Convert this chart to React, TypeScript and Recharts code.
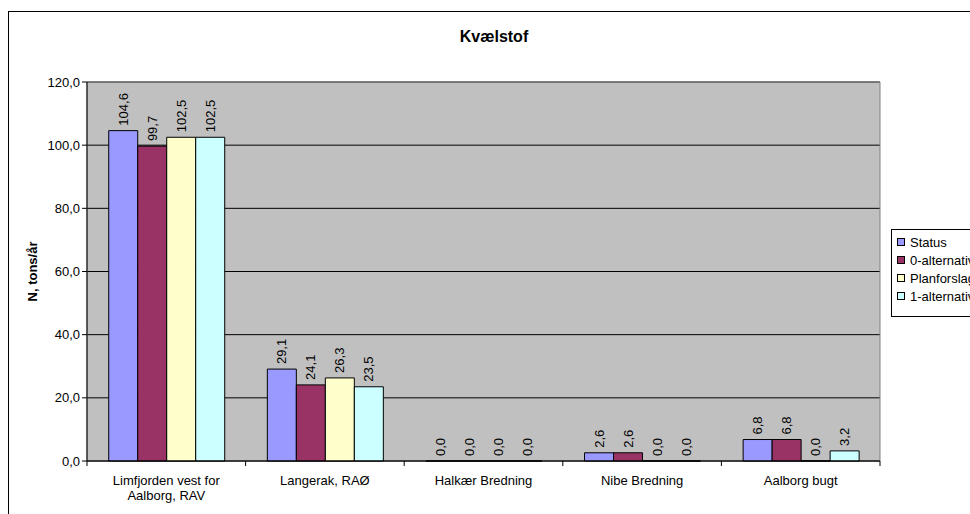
import React from 'react';
import { BarChart, Bar, XAxis, YAxis, CartesianGrid, Legend, LabelList, ReferenceArea } from 'recharts';

const categories = ['Limfjorden vest for\nAalborg, RAV', 'Langerak, RAØ', 'Halkær Bredning', 'Nibe Bredning', 'Aalborg bugt'];
const status = [104.6, 29.1, 0, 2.6, 6.8];
const alt0 = [99.7, 24.1, 0, 2.6, 6.8];
const planforslag = [102.5, 26.3, 0, 0, 0];
const alt1 = [102.5, 23.5, 0, 0, 3.2];
const yTicks = [0, 20, 40, 60, 80, 100, 120];

const series = [
  { key: 'status', name: 'Status', color: '#9999FF' },
  { key: 'alt0', name: '0-alternativ', color: '#993366' },
  { key: 'plan', name: 'Planforslag', color: '#FFFFCC' },
  { key: 'alt1', name: '1-alternativ', color: '#CCFFFF' },
];

const data = categories.map((name, i) => ({
  name,
  status: status[i],
  alt0: alt0[i],
  plan: planforslag[i],
  alt1: alt1[i],
}));

const FONT = '"Liberation Sans", Arial, sans-serif';
const W = 970;
const H = 514;
const M = { top: 82, right: 90, bottom: 0, left: 0 };
const Y_W = 87;
const X_H = 53;
const BAND = (W - M.left - M.right - Y_W) / categories.length;

const fmt = (v: number) => v.toFixed(1).replace('.', ',');

function CategoryTick(props: any) {
  const { x, y, payload, index } = props;
  const lines = String(payload.value).split('\n');
  return (
    <g>
      <line x1={x - BAND / 2} x2={x - BAND / 2} y1={y} y2={y + 5} stroke="#000" />
      {index === categories.length - 1 && (
        <line x1={x + BAND / 2} x2={x + BAND / 2} y1={y} y2={y + 5} stroke="#000" />
      )}
      <text x={x} y={y + 19} textAnchor="middle" fontSize={13} fontFamily={FONT} fill="#000">
        {lines.map((l, i) => (
          <tspan key={i} x={x} dy={i === 0 ? 4.5 : 15}>{l}</tspan>
        ))}
      </text>
    </g>
  );
}

function BarValue(props: any) {
  const vb = props.viewBox || {};
  const x = props.x ?? vb.x;
  const y = props.y ?? vb.y;
  const width = props.width ?? vb.width;
  const height = props.height ?? vb.height ?? 0;
  const cx = x + width / 2;
  // top of the bar (height may be tiny for zero values)
  const top = Math.min(y, y + height);
  const ty = top - 5;
  return (
    <text
      x={cx}
      y={ty}
      transform={`rotate(-90 ${cx} ${ty})`}
      textAnchor="start"
      dominantBaseline="central"
      fontSize={13}
      fontFamily={FONT}
      fill="#000"
    >
      {fmt(Number(props.value))}
    </text>
  );
}

function LegendBox() {
  return (
    <div style={{ border: '1px solid #000', background: '#fff', padding: '3px 0 11px 0', width: 200, fontFamily: FONT, fontSize: 13 }}>
      {series.map(s => (
        <div key={s.key} style={{ height: 18, display: 'flex', alignItems: 'center' }}>
          <span style={{ display: 'inline-block', width: 6, height: 6, border: '1px solid #000', background: s.color, marginLeft: 5, marginRight: 5 }} />
          <span>{s.name}</span>
        </div>
      ))}
    </div>
  );
}

export default function App() {
  return (
    <div style={{ position: 'fixed', left: 0, top: 0, width: W, height: H, overflow: 'hidden', background: '#fff' }}>
      <div style={{ position: 'absolute', left: 8, top: 11, width: 2000, height: 2000, border: '1px solid #000' }} />
      <div style={{ position: 'absolute', left: 0, width: 988, top: 28, textAlign: 'center', fontFamily: FONT, fontSize: 16, fontWeight: 'bold', lineHeight: '18px' }}>
        Kvælstof
      </div>
      <div style={{ position: 'absolute', left: 0, top: 0 }}>
        <BarChart width={W} height={H} data={data} margin={M} barCategoryGap="13.7%" barGap={0}>
          <CartesianGrid vertical={false} stroke="#000" fill="#C0C0C0" fillOpacity={1} />
          <ReferenceArea y1={0} y2={120} fill="none" stroke="#808080" strokeWidth={1} ifOverflow="visible" />
          <XAxis
            dataKey="name"
            height={X_H}
            interval={0}
            tickSize={0}
            tickMargin={0}
            tickLine={false}
            axisLine={{ stroke: '#000' }}
            tick={<CategoryTick />}
          />
          <YAxis
            width={Y_W}
            domain={[0, 120]}
            ticks={yTicks}
            interval={0}
            tickFormatter={fmt}
            tickSize={5}
            axisLine={{ stroke: '#000' }}
            tickLine={{ stroke: '#000' }}
            tick={{ fontSize: 13, fontFamily: FONT, fill: '#000' }}
            label={{ value: 'N, tons/år', angle: -90, position: 'center', dx: -11.5, style: { fontSize: 13, fontWeight: 'bold', fontFamily: FONT, fill: '#000' } }}
          />
          <Legend
            layout="vertical"
            align="center"
            verticalAlign="middle"
            content={<LegendBox />}
            wrapperStyle={{ left: 891, top: 229, width: 200 }}
          />
          {series.map(s => (
            <Bar
              key={s.key}
              dataKey={s.key}
              name={s.name}
              fill={s.color}
              stroke="#000"
              strokeWidth={1}
              minPointSize={0.01}
              isAnimationActive={false}
            >
              <LabelList dataKey={s.key} content={<BarValue />} />
            </Bar>
          ))}
        </BarChart>
      </div>
    </div>
  );
}
